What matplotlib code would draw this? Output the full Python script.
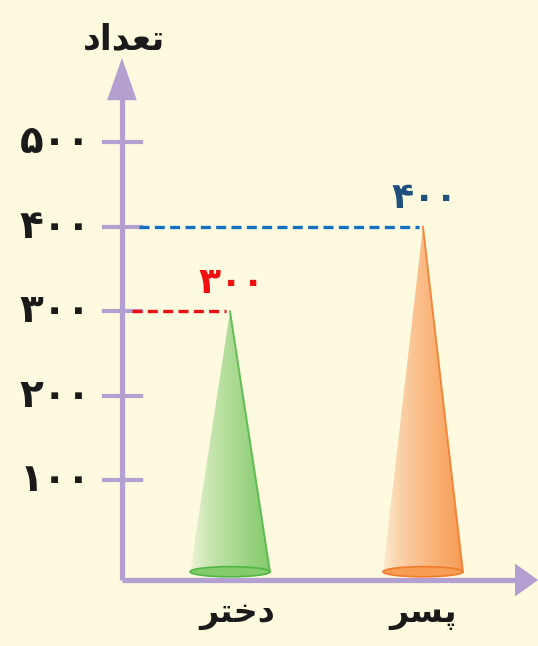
import numpy as np
import matplotlib
matplotlib.use('Agg')
import matplotlib.pyplot as plt
from matplotlib.patches import Polygon, Ellipse
from matplotlib.colors import LinearSegmentedColormap

# data
categories = ['\uFEAE\uFE98\uFEA7\uFEA9', '\uFEAE\uFEB4\uFB58']   # دختر , پسر (shaped, visual order)
values = [300, 400]
value_labels = ['۳۰۰', '۴۰۰']
yticks = [100, 200, 300, 400, 500]
ytick_labels = ['۱۰۰', '۲۰۰', '۳۰۰', '۴۰۰', '۵۰۰']
title = '\uFEA9\uFE8D\uFEAA\uFECC\uFE97'   # تعداد

bg = '#fefae0'
axis_col = '#b39fd0'
cone_light = ['#f4f6dc', '#fdeed5']
cone_dark = ['#84cb6c', '#f79d55']
cone_edge = ['#4fb545', '#f07b2c']
line_cols = ['#f01010', '#1470c0']
label_cols = ['#f01010', '#1f4f7d']

fig = plt.figure(figsize=(5.38, 6.46), dpi=100, facecolor=bg)
ax = fig.add_axes([0, 0, 1, 1])
ax.set_facecolor(bg)
ax.set_xlim(-1.192, 1.596)
ax.set_ylim(-95.9, 668.6)
ax.axis('off')

y0 = -17.8      # x axis level
x0 = -0.56      # y axis position
base = -8
hw = 0.207

# axes with arrows
ax.plot([x0, x0], [y0, 560], color=axis_col, lw=3.8, solid_capstyle='butt', zorder=2)
ax.plot([x0, 1.49], [y0, y0], color=axis_col, lw=3.8, solid_capstyle='butt', zorder=2)
ax.add_patch(Polygon([[x0 - 0.077, 550], [x0 + 0.077, 550], [x0, 600]],
                     closed=True, color=axis_col, lw=0, zorder=2))
ax.add_patch(Polygon([[1.477, y0 - 19.5], [1.477, y0 + 19.5], [1.596, y0]],
                     closed=True, color=axis_col, lw=0, zorder=2))

for t, lab in zip(yticks, ytick_labels):
    ax.plot([x0 - 0.095, x0 + 0.1], [t, t], color=axis_col, lw=3, zorder=2)
    ax.text(x0 - 0.16, t, lab, ha='right', va='center', fontsize=28,
            fontweight='bold', color='#1a1a1a', family='DejaVu Sans')

ax.text(x0 + 0.01, 622, title, ha='center', va='center', fontsize=25, fontweight='bold',
        color='#1a1a1a', family='DejaVu Sans')

for i, (cat, v) in enumerate(zip(categories, values)):
    poly = Polygon([[i - hw, base], [i + hw, base], [i, v]], closed=True,
                   facecolor='none', edgecolor='none')
    ax.add_patch(poly)
    cmap = LinearSegmentedColormap.from_list('c', [cone_light[i], cone_dark[i]])
    grad = np.linspace(0, 1, 256).reshape(1, -1) ** 0.7
    im = ax.imshow(grad, cmap=cmap, extent=[i - hw, i + hw, base, v], aspect='auto',
                   interpolation='bilinear', zorder=3)
    im.set_clip_path(poly)
    ax.plot([i, i + hw], [v, base], color=cone_edge[i], lw=1.4, alpha=0.85, zorder=4)
    ax.add_patch(Ellipse((i, base), 2 * hw, 12, facecolor=cone_dark[i],
                         edgecolor=cone_edge[i], lw=1.2, zorder=4))
    # dashed guide line to axis
    ax.plot([x0 + 0.05 if i == 0 else x0 + 0.09, i - 0.02], [v, v], color=line_cols[i],
            lw=2.4, ls=(0, (3, 1.6)), zorder=3)
    ax.text(i + 0.01, v + 34, value_labels[i], ha='center', va='center', fontsize=26,
            fontweight='bold', color=label_cols[i], family='DejaVu Sans')
    ax.text(i + (0.04 if i == 0 else 0), -58, cat, ha='center', va='center', fontsize=24,
            fontweight='bold', color='#1a1a1a', family='DejaVu Sans')

fig.savefig('out.png', dpi=100, facecolor=bg)
